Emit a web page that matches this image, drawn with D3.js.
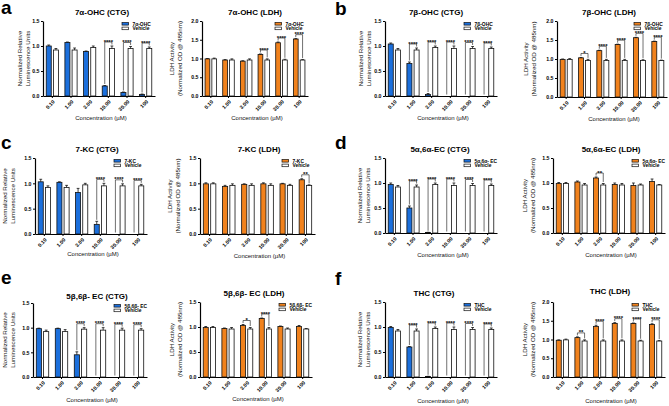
<!DOCTYPE html>
<html>
<head>
<meta charset="utf-8">
<script src="https://cdn.jsdelivr.net/npm/d3@7"></script>
<style>
body { margin: 0; background: #fff; }
svg { display: block; font-family: "Liberation Sans", Arial, sans-serif; }
</style>
</head>
<body>
<svg id="fig" width="669" height="406"></svg>
<script>
// x categories (µM)
const concentrations = ["0.10", "1.00", "3.00", "10.00", "30.00", "100"];

// vehicle controls, shared per assay
const ctgVehicle    = [0.92, 0.92, 0.97, 0.95, 0.95, 0.95];
const ctgVehicleErr = [0.03, 0.04, 0.03, 0.05, 0.04, 0.03];
const ldhVehicle    = [0.99, 0.96, 0.96, 0.96, 0.96, 0.96];
const ldhVehicleErr = [0.02, 0.03, 0.03, 0.03, 0.02, 0.01];

// 7a-OHC
const ohc7aCtg    = [1.00, 1.07, 0.89, 0.20, 0.07, 0.03];
const ohc7aCtgErr = [0.02, 0.01, 0.01, 0.01, 0.01, 0.01];
const ohc7aCtgSig = ["", "", "", "****", "****", "****"];
const ohc7aLdh    = [0.99, 0.96, 0.93, 1.11, 1.42, 1.52];
const ohc7aLdhErr = [0.01, 0.01, 0.01, 0.01, 0.02, 0.01];
const ohc7aLdhSig = ["", "", "", "****", "****", "****"];

// 7b-OHC
const ohc7bCtg    = [1.04, 0.65, 0.03, 0, 0, 0];
const ohc7bCtgErr = [0.02, 0.03, 0.02, 0, 0, 0];
const ohc7bCtgSig = ["", "****", "****", "****", "****", "****"];
const ohc7bLdh    = [0.99, 1.03, 1.22, 1.38, 1.56, 1.46];
const ohc7bLdhErr = [0.01, 0.01, 0.01, 0.01, 0.01, 0.01];
const ohc7bLdhSig = ["", "*", "****", "****", "****", "****"];

// 7-KC
const kc7Ctg    = [1.03, 1.02, 0.82, 0.19, 0, 0];
const kc7CtgErr = [0.05, 0.01, 0.08, 0.06, 0, 0];
const kc7CtgSig = ["", "", "", "****", "****", "****"];
const kc7Ldh    = [0.99, 0.94, 0.98, 0.99, 0.99, 1.07];
const kc7LdhErr = [0.02, 0.02, 0.01, 0.02, 0.01, 0.02];
const kc7LdhSig = ["", "", "", "", "", "**"];

// 5a,6a-EC
const ecAlphaCtg    = [0.97, 0.50, 0.01, 0, 0, 0];
const ecAlphaCtgErr = [0.03, 0.04, 0.005, 0, 0, 0];
const ecAlphaCtgSig = ["", "****", "****", "****", "****", "****"];
const ecAlphaLdh    = [0.99, 1.02, 1.10, 0.97, 0.95, 1.03];
const ecAlphaLdhErr = [0.02, 0.02, 0.02, 0.03, 0.05, 0.05];
const ecAlphaLdhSig = ["", "", "**", "", "", ""];

// 5b,6b-EC
const ecBetaCtg    = [0.98, 0.98, 0.45, 0, 0, 0];
const ecBetaCtgErr = [0.01, 0.01, 0.06, 0, 0, 0];
const ecBetaCtgSig = ["", "", "****", "****", "****", "****"];
const ecBetaLdh    = [0.99, 0.97, 1.03, 1.17, 1.01, 1.01];
const ecBetaLdhErr = [0.02, 0.01, 0.02, 0.01, 0.01, 0.02];
const ecBetaLdhSig = ["", "", "*", "****", "", ""];

// THC
const thcCtg    = [0.99, 0.60, 0.01, 0, 0, 0];
const thcCtgErr = [0.02, 0.01, 0.005, 0, 0, 0];
const thcCtgSig = ["", "****", "****", "****", "****", "****"];
const thcLdh    = [0.98, 1.05, 1.35, 1.43, 1.43, 1.40];
const thcLdhErr = [0.01, 0.02, 0.03, 0.02, 0.01, 0.02];
const thcLdhSig = ["", "**", "****", "****", "****", "****"];

const blue = "#1b6fdc";
const orange = "#f1821d";
const ctgLabel = ["Normalized Relative", "Luminescence Units"];
const ldhLabel = ["LDH Activity", "(Normalized OD @ 485nm)"];

const svg = d3.select("#fig");

// panel letters
const letters = [["a", 1, 14], ["b", 335, 15], ["c", 1, 149], ["d", 335, 149], ["e", 1, 284], ["f", 335, 285]];
svg.selectAll("text.letter").data(letters).enter().append("text")
    .attr("class", "letter")
    .attr("x", d => d[1]).attr("y", d => d[2])
    .attr("font-size", 19).attr("font-weight", "bold")
    .text(d => d[0]);

const panels = [
  {name: "7α-OHC", assay: "CTG", treat: ohc7aCtg, err: ohc7aCtgErr, sig: ohc7aCtgSig, max: 1.5,
   x0: 43, x1: 155, top: 21, bottom: 96, tx: 102, ty: 14.5, lx: [20, 27.5], xt: 120},
  {name: "7α-OHC", assay: "LDH", treat: ohc7aLdh, err: ohc7aLdhErr, sig: ohc7aLdhSig, max: 2.0,
   x0: 202, x1: 308, top: 21, bottom: 96, tx: 255, ty: 14.5, lx: [172, 179.5], xt: 120},
  {name: "7β-OHC", assay: "CTG", treat: ohc7bCtg, err: ohc7bCtgErr, sig: ohc7bCtgSig, max: 1.5,
   x0: 385, x1: 497, top: 21, bottom: 96, tx: 436, ty: 14.5, lx: [361, 368.5], xt: 120},
  {name: "7β-OHC", assay: "LDH", treat: ohc7bLdh, err: ohc7bLdhErr, sig: ohc7bLdhSig, max: 2.0,
   x0: 557, x1: 667, top: 21, bottom: 97, tx: 609, ty: 14.5, lx: [526, 533.5], xt: 121},
  {name: "7-KC", assay: "CTG", treat: kc7Ctg, err: kc7CtgErr, sig: kc7CtgSig, max: 1.5,
   x0: 35, x1: 147, top: 158, bottom: 234, tx: 97, ty: 151.5, lx: [5, 13], xt: 256},
  {name: "7-KC", assay: "LDH", treat: kc7Ldh, err: kc7LdhErr, sig: kc7LdhSig, max: 1.5,
   x0: 200, x1: 315, top: 158, bottom: 234, tx: 259, ty: 151.5, lx: [170, 178], xt: 258},
  {name: "5α,6α-EC", leg: "5α,6α- EC", assay: "CTG", treat: ecAlphaCtg, err: ecAlphaCtgErr, sig: ecAlphaCtgSig, max: 1.5,
   x0: 385, x1: 497, top: 158, bottom: 233, tx: 440, ty: 151.5, lx: [360, 367.5], xt: 257},
  {name: "5α,6α-EC", leg: "5α,6α- EC", assay: "LDH", treat: ecAlphaLdh, err: ecAlphaLdhErr, sig: ecAlphaLdhSig, max: 1.5,
   x0: 553, x1: 665, top: 158, bottom: 233, tx: 611, ty: 151.5, lx: [525, 533], xt: 257},
  {name: "5β,6β- EC", assay: "CTG", treat: ecBetaCtg, err: ecBetaCtgErr, sig: ecBetaCtgSig, max: 1.5,
   x0: 33, x1: 147, top: 303, bottom: 377, tx: 97, ty: 299, lx: [5, 13], xt: 402},
  {name: "5β,6β- EC", assay: "LDH", treat: ecBetaLdh, err: ecBetaLdhErr, sig: ecBetaLdhSig, max: 1.5,
   x0: 200, x1: 312, top: 302, bottom: 377, tx: 254, ty: 296, lx: [172, 179.5], xt: 401},
  {name: "THC", assay: "CTG", treat: thcCtg, err: thcCtgErr, sig: thcCtgSig, max: 1.5,
   x0: 385, x1: 497, top: 302, bottom: 377, tx: 434, ty: 296, lx: [360, 367.5], xt: 403},
  {name: "THC", assay: "LDH", treat: thcLdh, err: thcLdhErr, sig: thcLdhSig, max: 2.0,
   x0: 553, x1: 665, top: 302, bottom: 377, tx: 610, ty: 294, lx: [525, 532.5], xt: 403}
];

panels.forEach(drawPanel);

function drawPanel(p) {
  const ctg = p.assay === "CTG";
  const veh = ctg ? ctgVehicle : ldhVehicle;
  const vehErr = ctg ? ctgVehicleErr : ldhVehicleErr;
  const color = ctg ? blue : orange;
  const g = svg.append("g");

  const x = d3.scaleBand().domain(concentrations).range([p.x0, p.x1]);
  const xs = d3.scaleBand().domain(["t", "v"]).range([0, x.bandwidth()])
      .paddingInner(0.3).paddingOuter(0.45);
  const y = d3.scaleLinear().domain([0, p.max]).range([p.bottom, p.top]);

  // title
  g.append("text").attr("x", p.tx).attr("y", p.ty)
      .attr("text-anchor", "middle").attr("font-size", 8).attr("font-weight", "bold")
      .text(p.name + " (" + p.assay + ")");

  // y axis
  const ya = g.append("g").attr("transform", "translate(" + p.x0 + ",0)")
      .call(d3.axisLeft(y).tickValues(d3.range(0, p.max + 0.01, 0.5))
        .tickFormat(d3.format(".1f")).tickSize(2).tickSizeOuter(0).tickPadding(1.5));
  ya.selectAll("text").attr("font-size", 5.2).attr("font-weight", "bold").attr("font-family", null);
  ya.select(".domain").attr("stroke-width", 1.2);

  // x axis
  const xa = g.append("g").attr("transform", "translate(0," + p.bottom + ")")
      .call(d3.axisBottom(x).tickSize(2).tickSizeOuter(0));
  xa.select(".domain").attr("stroke-width", 1.2);
  xa.selectAll("text")
      .attr("font-size", 5.2).attr("font-weight", "bold").attr("font-family", null)
      .attr("text-anchor", "end")
      .attr("x", 0).attr("y", 0).attr("dy", "0.35em")
      .attr("transform", "translate(1.5,5) rotate(-45)");

  // axis titles
  (ctg ? ctgLabel : ldhLabel).forEach((t, i) => {
    g.append("text")
        .attr("transform", "translate(" + p.lx[i] + "," + (p.top + p.bottom) / 2 + ") rotate(-90)")
        .attr("text-anchor", "middle").attr("dy", "0.35em")
        .attr("font-size", 6.2).attr("fill", "#111")
        .text(t);
  });
  g.append("text").attr("x", (p.x0 + p.x1) / 2 + 2).attr("y", p.xt)
      .attr("text-anchor", "middle").attr("font-size", 6).attr("fill", "#111")
      .text("Concentration (µM)");

  // bars
  const rows = concentrations.map((c, i) => ({c: c, t: p.treat[i], te: p.err[i], v: veh[i], ve: vehErr[i], s: p.sig[i]}));
  const grp = g.selectAll("g.grp").data(rows).enter().append("g").attr("class", "grp");

  grp.filter(d => d.t > 0).append("rect")
      .attr("x", d => x(d.c) + xs("t")).attr("width", xs.bandwidth())
      .attr("y", d => y(d.t)).attr("height", d => p.bottom - y(d.t))
      .attr("fill", color).attr("stroke", "#111").attr("stroke-width", 0.8);
  grp.append("rect")
      .attr("x", d => x(d.c) + xs("v")).attr("width", xs.bandwidth())
      .attr("y", d => y(d.v)).attr("height", d => p.bottom - y(d.v))
      .attr("fill", "#fff").attr("stroke", "#111").attr("stroke-width", 0.8);

  // error bars (upper)
  const errBar = (key, val, e) => {
    const cx = d => x(d.c) + xs(key) + xs.bandwidth() / 2;
    const sel = grp.filter(d => d[e] > 0);
    sel.append("line").attr("x1", cx).attr("x2", cx)
        .attr("y1", d => y(d[val])).attr("y2", d => y(d[val] + d[e]))
        .attr("stroke", "#111").attr("stroke-width", 0.8);
    sel.append("line").attr("x1", d => cx(d) - 1.4).attr("x2", d => cx(d) + 1.4)
        .attr("y1", d => y(d[val] + d[e])).attr("y2", d => y(d[val] + d[e]))
        .attr("stroke", "#111").attr("stroke-width", 0.8);
  };
  errBar("t", "t", "te");
  errBar("v", "v", "ve");

  // significance brackets
  const sg = grp.filter(d => d.s !== "");
  const tc = d => x(d.c) + xs("t") + xs.bandwidth() / 2;
  const vc = d => x(d.c) + xs("v") + xs.bandwidth() / 2;
  const by = d => Math.min(y(d.t + d.te), y(d.v + d.ve)) - 4;
  sg.append("path")
      .attr("d", d => "M" + tc(d) + "," + (y(d.t + d.te) - 1.5) + "V" + by(d) +
                      "H" + vc(d) + "V" + (y(d.v + d.ve) - 1.5))
      .attr("fill", "none").attr("stroke", "#111").attr("stroke-width", 0.6);
  sg.append("text")
      .attr("x", d => (tc(d) + vc(d)) / 2).attr("y", d => by(d) + 1.6)
      .attr("text-anchor", "middle").attr("font-size", 6).attr("font-weight", "bold")
      .text(d => d.s);

  // legend
  const lg = g.append("g").attr("transform", "translate(" + (p.x1 - 33) + "," + (p.top + 1.5) + ")");
  [[color, p.leg || p.name], ["#fff", "Vehicle"]].forEach((it, i) => {
    lg.append("rect").attr("x", 0).attr("y", i * 4.6).attr("width", 6.6).attr("height", 2.6)
        .attr("fill", it[0]).attr("stroke", "#111").attr("stroke-width", 0.7);
    lg.append("text").attr("x", 10.5).attr("y", i * 4.6 + 3)
        .attr("font-size", 4.9).attr("font-weight", "bold")
        .text(it[1]);
  });
}
</script>
</body>
</html>
